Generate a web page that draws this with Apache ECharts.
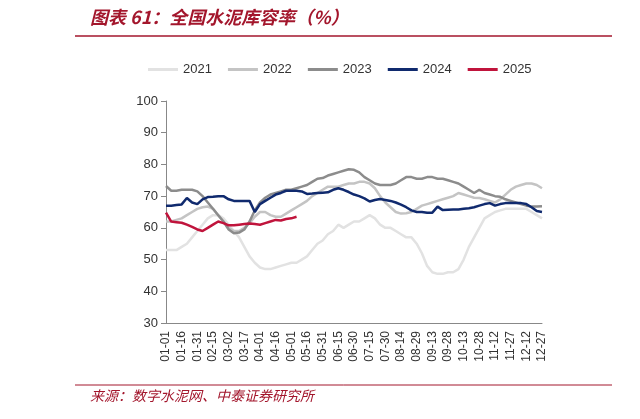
<!DOCTYPE html><html><head><meta charset="utf-8"><script src="https://cdn.jsdelivr.net/npm/echarts@6/dist/echarts.min.js"></script>
<style>body{margin:0}#c{width:640px;height:419px}</style></head><body><div id="c"></div><script>
const tickLabels=['01-01','01-16','01-31','02-15','03-02','03-17','04-01','04-16','05-01','05-16','05-31','06-15','06-30','07-15','07-30','08-14','08-29','09-13','09-28','10-13','10-28','11-12','11-27','12-12','12-27'];
const categories=[];
(function(){const md=[31,28,31,30,31,30,31,31,30,31,30,31];let m=0,d=1;for(let i=0;i<73;i++){categories.push(String(m+1).padStart(2,'0')+'-'+String(d).padStart(2,'0'));d+=5;if(d>md[m]){d-=md[m];m++;}}})();
const s2021=[53,53,53,54,55,57,59,61,63,64,64,63,61,59,57,54,51,49,47.5,47,47,47.5,48,48.5,49,49,50,51,53,55,56,58,59,61,60,61,62,62,63,64,63,61,60,60,59,58,57,57,55,52,48,46,45.5,45.5,46,46,47,50,54,57,60,63,64,65,65.5,66,66,66,66,66,65,64,63];
const s2022=[62,62,62.5,63,64,65,66,66.5,66.7,66,64,62,60,59,59,60,61.5,63.5,65,65,64,63.5,63.5,64.5,65.5,66.5,67.5,68.5,70,71,72,73,73,73,73.5,74,74,74.5,74.5,74,72.5,70,68,66.5,65,64.5,64.6,65,66,67,67.5,68,68.5,69,69.5,70,71,70.5,70,69.5,69.4,69,68.5,68,69,70.5,72,73,73.5,74,74,73.5,72.5];
const s2023=[73.2,71.7,71.7,72,72,72,71.5,70,68,66,64,62,59.5,58.3,58.5,59.5,62,65.5,68,69.5,70.5,71,71.5,72,72,72.5,73,73.5,74.5,75.5,75.7,76.5,77,77.5,78,78.5,78.3,77.5,76,75,74,73.5,73.5,73.5,74,75,76,76,75.5,75.5,76,76,75.5,75.5,75,74.5,74,73,72,71,72,71,70.5,70,69.8,69,68.5,68,67.5,67,66.7,66.7,66.8];
const s2024=[67,67,67.2,67.4,69.4,68,67.5,69,69.7,69.8,70,70,69,68.5,68.5,68.5,68.5,65,67.5,68.5,69.5,70.5,71,71.7,71.7,71.7,71.5,70.7,70.8,71,71.1,71.2,72,72.5,72,71.3,70.5,70,69.3,68.3,68.8,69.1,68.8,68.5,68,67.3,66.5,65.5,65,65,64.8,64.8,66.7,65.6,65.7,65.8,65.8,66,66.2,66.5,67,67.5,67.8,67,67.5,67.8,67.8,67.8,67.8,67.5,66.5,65.3,65];
const s2025=[64.8,62,61.8,61.6,61,60.3,59.5,59,60,61,62,61.5,60.8,60.8,61,61.2,61.4,61.2,61,61.5,62,62.5,62.3,62.8,63,63.5];
const names=['2021','2022','2023','2024','2025'];
const colors=['#e2e2e2','#c4c4c4','#8c8c8c','#102a6e','#c0143c'];
const data=[s2021,s2022,s2023,s2024,s2025];
const chart=echarts.init(document.getElementById('c'));
chart.setOption({
 animation:false,
 graphic:[
  {type:'text',left:90,top:8,style:{text:'图表 61：全国水泥库容率（%）',font:'italic bold 18px "Noto Sans CJK SC"',fill:'#a3162c'}},
  {type:'line',shape:{x1:75,y1:36,x2:612,y2:36},style:{stroke:'#a3162c',lineWidth:1.5}},
  {type:'line',shape:{x1:75,y1:385,x2:612,y2:385},style:{stroke:'#a3162c',lineWidth:1}},
  {type:'text',left:90,top:389,style:{text:'来源：数字水泥网、中泰证券研究所',font:'italic 14px "Noto Sans CJK SC"',fill:'#a3162c'}}
 ],
 legend:{top:58,left:143,itemWidth:30,itemHeight:3,itemGap:16,icon:'rect',textStyle:{fontSize:13,color:'#333',fontFamily:'Arial'},data:names},
 grid:{left:166,right:98,top:101,bottom:96},
 xAxis:{type:'category',data:categories,boundaryGap:false,
  axisLine:{lineStyle:{color:'#888'}},axisTick:{show:false},
  axisLabel:{interval:2,rotate:90,fontSize:12,color:'#333',fontFamily:'Arial'}},
 yAxis:{type:'value',min:30,max:100,interval:10,splitLine:{show:false},
  axisLine:{show:true,lineStyle:{color:'#888'}},axisTick:{show:true,lineStyle:{color:'#888'}},
  axisLabel:{fontSize:13,color:'#333',fontFamily:'Arial'}},
 series:names.map((n,i)=>({name:n,type:'line',data:data[i],showSymbol:false,z:i+2,
  lineStyle:{width:2.5,color:colors[i]},itemStyle:{color:colors[i]}}))
});
</script></body></html>
